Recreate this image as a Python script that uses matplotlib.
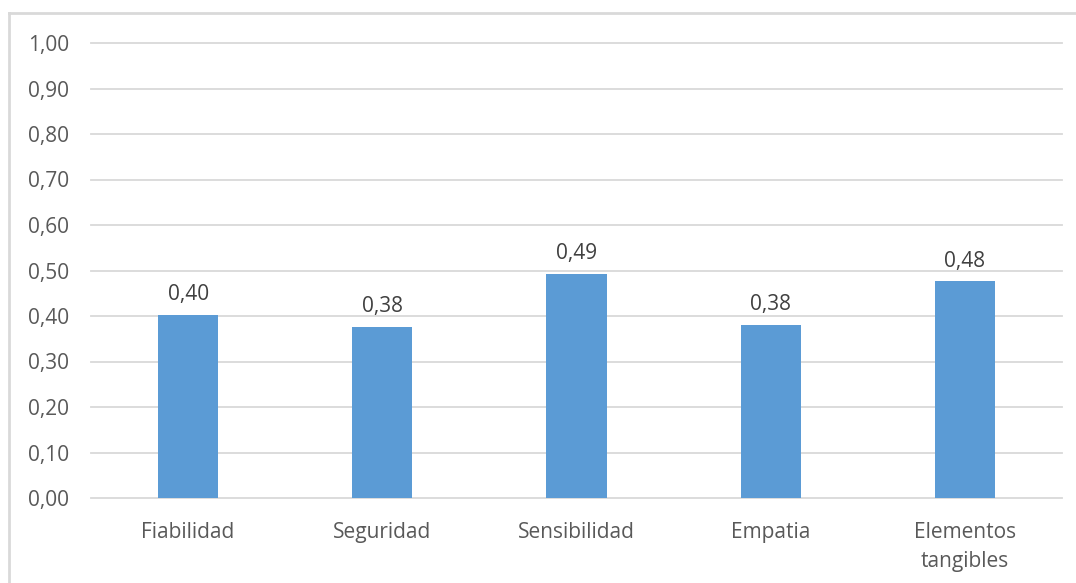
import matplotlib.pyplot as plt
from matplotlib.lines import Line2D

# dimensiones de calidad de servicio
categorias = ['Fiabilidad', 'Seguridad', 'Sensibilidad', 'Empatia', 'Elementos\ntangibles']
valores = [0.402, 0.376, 0.493, 0.380, 0.476]
ticks_y = [0.0, 0.1, 0.2, 0.3, 0.4, 0.5, 0.6, 0.7, 0.8, 0.9, 1.0]

plt.rcParams['font.family'] = ['Open Sans', 'DejaVu Sans']

W, H = 1076, 583
fig = plt.figure(figsize=(W / 100, H / 100), dpi=100)
ax = fig.add_axes([91 / W, 1 - 498 / H, (1062 - 91) / W, (498 - 43) / H])

x = range(len(categorias))
ax.bar(x, valores, width=0.31, color='#5b9bd5', zorder=3)

# etiquetas de valor sobre cada barra
for xi, v in zip(x, valores):
    ax.annotate('{:.2f}'.format(v).replace('.', ','), (xi, v),
                xytext=(0, 7), textcoords='offset points',
                ha='center', va='bottom', fontsize=15, color='#404040')

ax.set_xlim(-0.5, len(categorias) - 0.5)
ax.set_ylim(0, 1.0)
ax.set_yticks(ticks_y)
ax.set_yticklabels(['{:.2f}'.format(t).replace('.', ',') for t in ticks_y])
ax.set_xticks(list(x))
ax.set_xticklabels(categorias, linespacing=1.5)

ax.grid(axis='y', color='#d9d9d9', linewidth=1.3, zorder=0)
for gl in ax.get_ygridlines():
    gl.set_clip_on(False)
ax.tick_params(axis='both', length=0, labelsize=15, labelcolor='#595959')
ax.tick_params(axis='y', pad=16)
ax.tick_params(axis='x', pad=17)
for s in ax.spines.values():
    s.set_visible(False)

# marco del grafico
borde = dict(color='#d9d9d9', linewidth=2, transform=None)
fig.lines.append(Line2D([9, W], [H - 13, H - 13], **borde))
fig.lines.append(Line2D([9, 9], [0, H - 13], **borde))

fig.savefig('out.png', dpi=100)
